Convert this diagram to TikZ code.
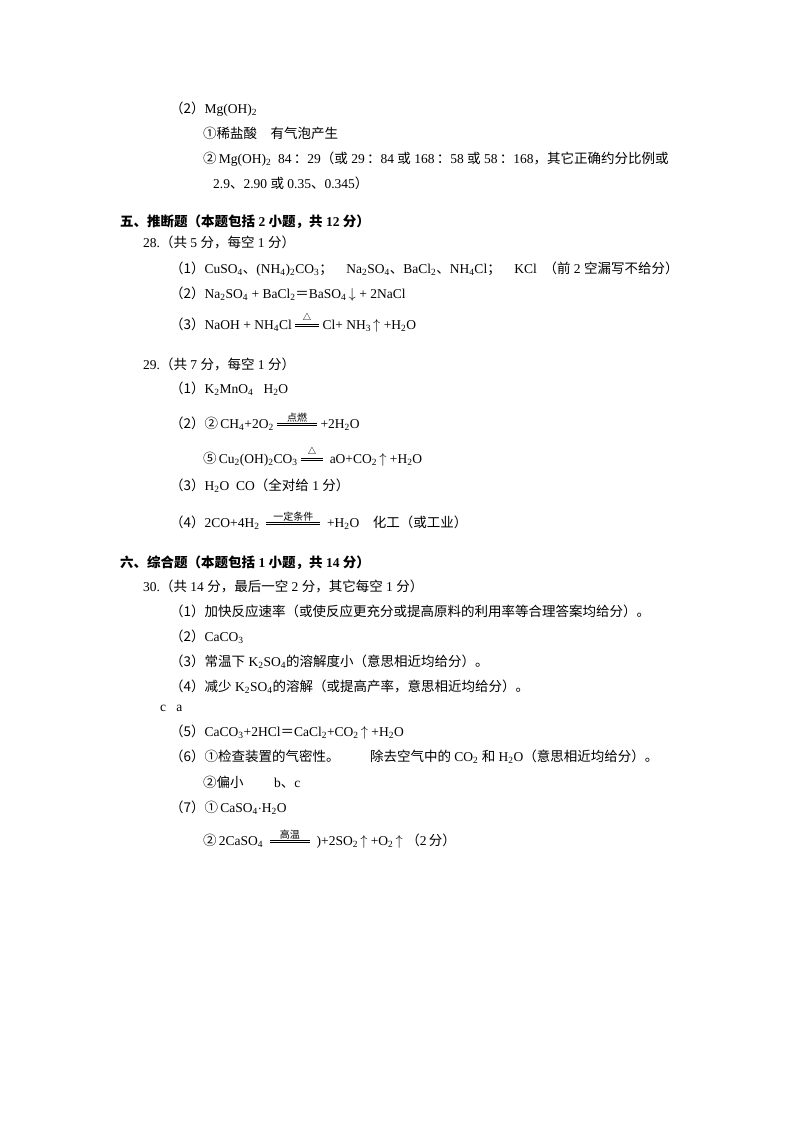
\documentclass[tikz,border=0pt]{standalone}
\usepackage{fontspec}
\setmainfont{Liberation Serif}
\newfontfamily\cjk{Noto Sans CJK SC}
\newcommand\zh[1]{{\cjk #1}}
\newcommand\cond[2]{\mbox{$\mathop{\vcenter{\hrule width #1 height .7pt\vskip1.3pt\hrule height .7pt}}\limits^{\hbox{\fontsize{10}{10}\selectfont #2}}$}}
\newcommand\tri{$\triangle$}
\newcommand\up{\,$\uparrow$}
\newcommand\dn{\,$\downarrow$}
\begin{document}
\begin{tikzpicture}[x=1pt,y=-1pt,every node/.style={anchor=base west,inner sep=0pt,font=\fontsize{13.5}{16}\selectfont}]
\useasboundingbox[fill=white] (0,0) rectangle (800,1132);
\node (a1) at (170,113) {\zh{（2）}Mg(OH)\textsubscript{2}};
\node (a2) at (203,138) {\zh{①稀盐酸\quad 有气泡产生}};
\node (a3) at (203,163) {\zh{②}\,Mg(OH)\textsubscript{2}\ \ 84\,\zh{：}29\zh{（或} 29\,\zh{：}84 \zh{或} 168\,\zh{：}58 \zh{或} 58\,\zh{：}168\zh{，其它正确约分比例或}};
\node (a4) at (213,188) {2.9\zh{、}2.90 \zh{或} 0.35\zh{、}0.345\zh{）}};
\node (h5) at (120,226) {\zh{\bfseries 五、推断题（本题包括} \textbf{2} \zh{\bfseries 小题，共} \textbf{12} \zh{\bfseries 分）}};
\node (b0) at (143,247) {28.\zh{（共} 5 \zh{分，每空} 1 \zh{分）}};
\node (b1) at (170,273) {\zh{（1）}CuSO\textsubscript{4}\zh{、}(NH\textsubscript{4})\textsubscript{2}CO\textsubscript{3}\zh{；}\quad Na\textsubscript{2}SO\textsubscript{4}\zh{、}BaCl\textsubscript{2}\zh{、}NH\textsubscript{4}Cl\zh{；}\quad KCl\ \ \zh{（前} 2 \zh{空漏写不给分）}};
\node (b2) at (170,298) {\zh{（2）}Na\textsubscript{2}SO\textsubscript{4} + BaCl\textsubscript{2}\zh{＝}BaSO\textsubscript{4}\dn{} + 2NaCl};
\node (b3) at (170,329) {\zh{（3）}NaOH + NH\textsubscript{4}Cl \cond{24pt}{\tri} Cl+ NH\textsubscript{3}\up{} +H\textsubscript{2}O};
\node (c0) at (143,369) {29.\zh{（共} 7 \zh{分，每空} 1 \zh{分）}};
\node (c1) at (170,393) {\zh{（1）}K\textsubscript{2}MnO\textsubscript{4}\ \ \ H\textsubscript{2}O};
\node (c2) at (170,428) {\zh{（2）②}\,CH\textsubscript{4}+2O\textsubscript{2} \cond{40pt}{\zh{点燃}} +2H\textsubscript{2}O};
\node (c3) at (203,463) {\zh{⑤}\,Cu\textsubscript{2}(OH)\textsubscript{2}CO\textsubscript{3} \cond{22pt}{\tri}\ \ aO+CO\textsubscript{2}\up{} +H\textsubscript{2}O};
\node (c4) at (170,490) {\zh{（3）}H\textsubscript{2}O\ \ CO\zh{（全对给} 1 \zh{分）}};
\node (c5) at (170,527) {\zh{（4）}2CO+4H\textsubscript{2}\ \ \cond{54pt}{\zh{一定条件}}\ \ +H\textsubscript{2}O\quad \zh{化工（或工业）}};
\node (h6) at (120,567) {\zh{\bfseries 六、综合题（本题包括} \textbf{1} \zh{\bfseries 小题，共} \textbf{14} \zh{\bfseries 分）}};
\node (d0) at (143,591) {30.\zh{（共} 14 \zh{分，最后一空} 2 \zh{分，其它每空} 1 \zh{分）}};
\node (d1) at (170,616) {\zh{（1）加快反应速率（或使反应更充分或提高原料的利用率等合理答案均给分）。}};
\node (d2) at (170,641) {\zh{（2）}CaCO\textsubscript{3}};
\node (d3) at (170,666) {\zh{（3）常温下} K\textsubscript{2}SO\textsubscript{4}\zh{的溶解度小（意思相近均给分）。}};
\node (d4) at (170,691) {\zh{（4）减少} K\textsubscript{2}SO\textsubscript{4}\zh{的溶解（或提高产率，意思相近均给分）。}};
\node (d5) at (160,711) {c\ \ \ a};
\node (d6) at (170,736) {\zh{（5）}CaCO\textsubscript{3}+2HCl\zh{＝}CaCl\textsubscript{2}+CO\textsubscript{2}\up{} +H\textsubscript{2}O};
\node (d7) at (170,761) {\zh{（6）①检查装置的气密性。}\qquad\ \zh{除去空气中的} CO\textsubscript{2} \zh{和} H\textsubscript{2}O\zh{（意思相近均给分）。}};
\node (d8) at (203,787) {\zh{②偏小}\qquad\ b\zh{、}c};
\node (d9) at (170,812) {\zh{（7）①}\,CaSO\textsubscript{4}$\cdot$H\textsubscript{2}O};
\node (d10) at (203,845) {\zh{②}\,2CaSO\textsubscript{4}\ \ \cond{40pt}{\zh{高温}}\ \ )+2SO\textsubscript{2}\up{} +O\textsubscript{2}\up{}\ \zh{（}2\,\zh{分）}};
\end{tikzpicture}
\end{document}
